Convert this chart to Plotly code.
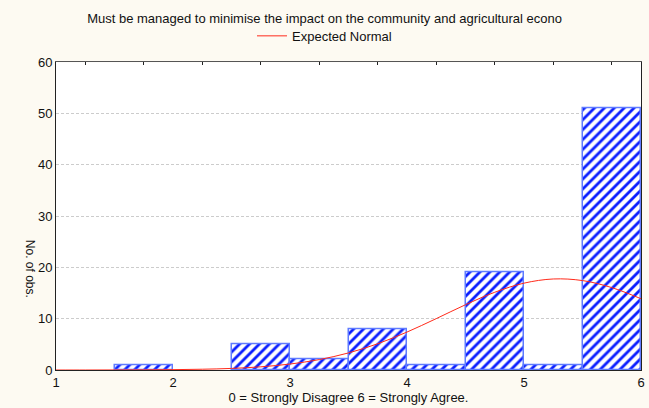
import plotly.graph_objects as go

# Histogram of responses (bin width 0.5), empty bins left out
bin_centers = [1.75, 2.75, 3.25, 3.75, 4.25, 4.75, 5.25, 5.75]
counts = [1, 5, 2, 8, 1, 19, 1, 51]

# Expected normal curve values
curve_x = [1.0, 1.25, 1.5, 1.75, 2.0, 2.25, 2.5, 2.75, 3.0, 3.25, 3.5,
           3.75, 4.0, 4.25, 4.5, 4.75, 5.0, 5.25, 5.5, 5.75, 6.0]
curve_y = [0.0, 0.0, 0.01, 0.03, 0.07, 0.15, 0.31, 0.62, 1.16, 2.03, 3.33,
           5.12, 7.40, 10.02, 12.73, 15.16, 16.94, 17.75, 17.44, 16.07, 13.9]

x_ticks = [1, 2, 3, 4, 5, 6]
top_ticks = [1.25, 1.75, 2.25, 2.75, 3.25, 3.75, 4.25, 4.75, 5.25, 5.75]
y_ticks = [0, 10, 20, 30, 40, 50, 60]

title_text = "Must be managed to minimise the impact on the community and agricultural econo"
x_title = "0 = Strongly Disagree 6 = Strongly Agree."
y_title = "No. of obs."

FONT = "Liberation Sans, Arial, sans-serif"
BG = "#fdfaf2"
INK = "#111111"

fig = go.Figure()

fig.add_trace(go.Bar(
    x=bin_centers,
    y=counts,
    width=0.5,
    showlegend=False,
    marker=dict(
        color="white",
        line=dict(color="#5f7bff", width=1.5),
        pattern=dict(shape="/", fgcolor="#0a1eff", bgcolor="white",
                     fgopacity=1, size=7, solidity=0.4),
    ),
))

fig.add_trace(go.Scatter(
    x=curve_x,
    y=curve_y,
    mode="lines",
    name="Expected Normal",
    line=dict(color="#ff2a1a", width=1, shape="spline", smoothing=1),
))

# invisible trace carrying the top axis ticks
fig.add_trace(go.Scatter(x=[1, 6], y=[0, 0], xaxis="x2", mode="markers",
                         marker=dict(opacity=0), showlegend=False,
                         hoverinfo="skip"))

fig.update_layout(
    width=649,
    height=408,
    paper_bgcolor=BG,
    plot_bgcolor="white",
    margin=dict(l=56, r=4, t=50, b=38),
    font=dict(family=FONT, size=13, color=INK),
    bargap=0,
    title=dict(text=title_text, x=0.5, xanchor="center", y=0.955,
               yanchor="middle", yref="container",
               font=dict(family=FONT, size=13, color=INK)),
    legend=dict(orientation="h", x=0.5, xanchor="center", xref="container",
                y=0.912, yanchor="middle", yref="container",
                bgcolor="rgba(0,0,0,0)", itemwidth=30,
                font=dict(family=FONT, size=13, color=INK)),
    xaxis=dict(
        range=[1, 6],
        tickvals=x_ticks,
        ticks="",
        showgrid=False,
        zeroline=False,
        showline=True,
        linecolor="#222222",
        linewidth=1,
        mirror=False,
        title=dict(text=x_title, standoff=3,
                   font=dict(family=FONT, size=13, color=INK)),
        tickfont=dict(family=FONT, size=13),
    ),
    xaxis2=dict(
        overlaying="x",
        side="top",
        range=[1, 6],
        tickvals=top_ticks,
        showticklabels=False,
        ticks="inside",
        ticklen=3,
        tickcolor="#222222",
        showgrid=False,
        zeroline=False,
        showline=True,
        linecolor="#555555",
        linewidth=1,
    ),
    yaxis=dict(
        range=[0, 60],
        tickvals=y_ticks,
        ticks="",
        showgrid=True,
        gridcolor="#cccccc",
        griddash="3px,2px",
        gridwidth=1,
        zeroline=False,
        showline=True,
        linecolor="#222222",
        linewidth=1,
        mirror=True,
        tickfont=dict(family=FONT, size=13),
    ),
)

fig.add_annotation(
    text=y_title,
    textangle=90,
    xref="paper", yref="paper",
    x=-0.045, y=0.33,
    xanchor="center", yanchor="middle",
    showarrow=False,
    font=dict(family=FONT, size=12, color=INK),
)

fig.write_html("out.html")
